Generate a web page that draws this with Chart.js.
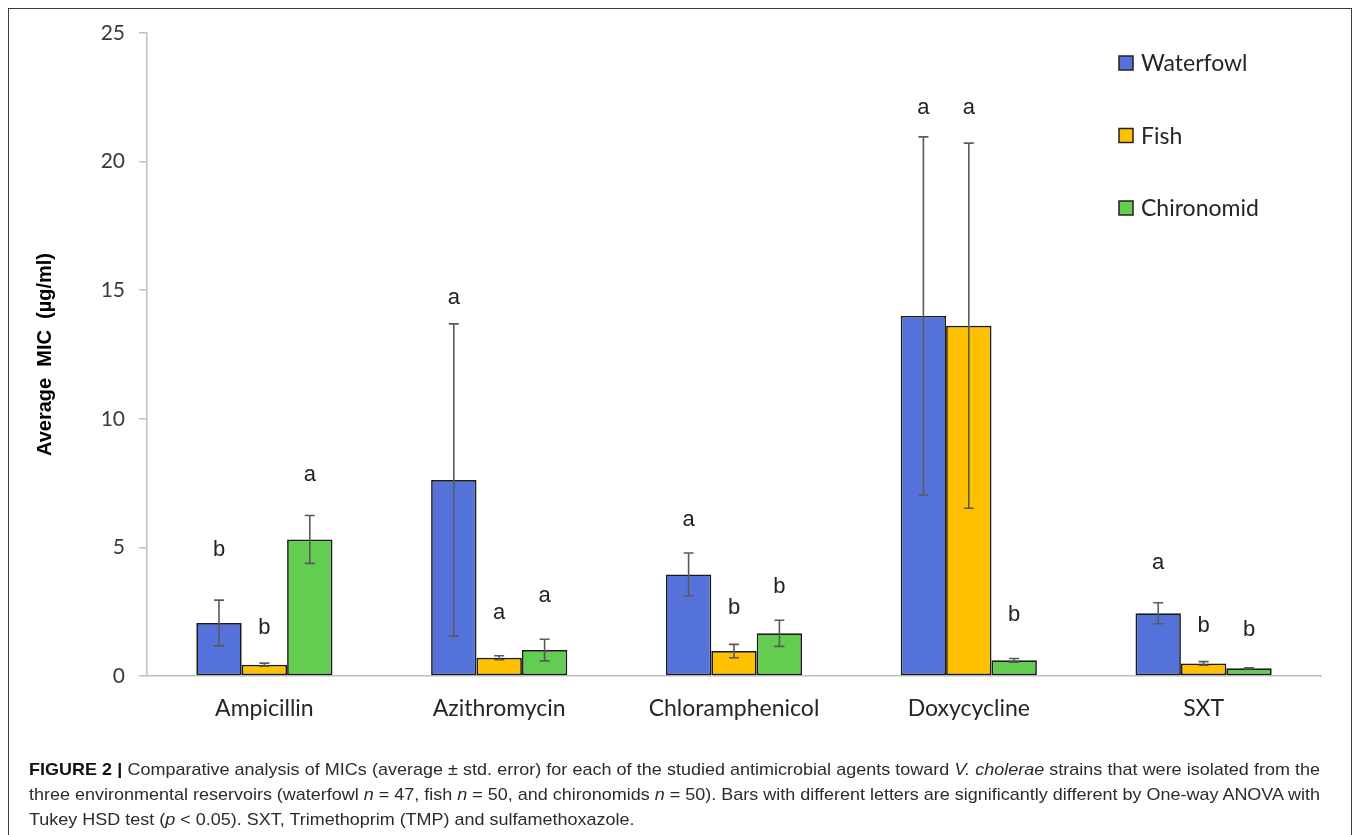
<!DOCTYPE html>
<html>
<head>
<meta charset="utf-8">
<script src="https://cdn.jsdelivr.net/npm/chart.js@4.4.1/dist/chart.umd.min.js"></script>
<style>
  html, body { margin: 0; padding: 0; background: #fff; }
  #wrap { position: relative; width: 1358px; height: 835px; overflow: hidden; background: #fff; }
  #c { position: absolute; left: 0; top: 0; }
  #frame { position: absolute; left: 8px; top: 8px; width: 1344px; height: 840px;
           border: 1.5px solid #3c3c3c; box-sizing: border-box; pointer-events: none; }
  #caption { position: absolute; left: 29px; top: 757px; color: #2b2b2b;
             font-family: "Liberation Sans Narrow", "Arial Narrow", "Liberation Sans", Arial, sans-serif;
             font-size: 17px; line-height: 25px; }
  #caption .ln { white-space: nowrap; transform-origin: 0 0; }
  #caption .just { text-align: justify; text-align-last: justify; white-space: normal; }
  #caption b { font-weight: bold; color: #111; }
</style>
</head>
<body>
<div id="wrap">
  <canvas id="c" width="1358" height="835"></canvas>
  <div id="frame"></div>
  <div id="caption">
    <div class="ln" id="l1"><b>FIGURE 2 |</b> Comparative analysis of MICs (average ± std. error) for each of the studied antimicrobial agents toward <i>V. cholerae</i> strains that were isolated from the</div>
    <div class="ln" id="l2">three environmental reservoirs (waterfowl <i>n</i> = 47, fish <i>n</i> = 50, and chironomids <i>n</i> = 50). Bars with different letters are significantly different by One-way ANOVA with</div>
    <div class="ln" id="l3">Tukey HSD test (<i>p</i> &lt; 0.05). SXT, Trimethoprim (TMP) and sulfamethoxazole.</div>
  </div>
</div>
<script>
// ---- data ----
const categories = ['Ampicillin', 'Azithromycin', 'Chloramphenicol', 'Doxycycline', 'SXT'];
const seriesNames = ['Waterfowl', 'Fish', 'Chironomid'];
const waterfowl = [2.06, 7.62, 3.95, 14.0, 2.44];
const waterfowlErr = [0.89, 6.07, 0.83, 6.96, 0.41];
const fish = [0.44, 0.71, 0.97, 13.62, 0.49];
const fishErr = [0.06, 0.08, 0.26, 7.1, 0.07];
const chironomid = [5.31, 1.01, 1.66, 0.61, 0.30];
const chironomidErr = [0.93, 0.42, 0.51, 0.07, 0.02];
// significance letters and the value level at which each is printed
const waterfowlLetters = ['b', 'a', 'a', 'a', 'a'];
const fishLetters = ['b', 'a', 'b', 'a', 'b'];
const chironomidLetters = ['a', 'a', 'b', 'b', 'b'];
const waterfowlLetterY = [4.9, 14.7, 6.07, 22.1, 4.38];
const fishLetterY = [1.86, 2.45, 2.66, 22.1, 1.94];
const chironomidLetterY = [7.8, 3.12, 3.47, 2.37, 1.79];
const yTicks = [0, 5, 10, 15, 20, 25];
const yTitle = 'Average  MIC  (µg/ml)';

const colors = ['#5571da', '#ffc000', '#63cd52'];
const errs = [waterfowlErr, fishErr, chironomidErr];
const letters = [waterfowlLetters, fishLetters, chironomidLetters];
const letterY = [waterfowlLetterY, fishLetterY, chironomidLetterY];

const extrasPlugin = {
  id: 'extras',
  afterDatasetsDraw(chart) {
    const ctx = chart.ctx;
    const y = chart.scales.y;
    ctx.save();
    chart.data.datasets.forEach((ds, di) => {
      const meta = chart.getDatasetMeta(di);
      meta.data.forEach((bar, i) => {
        const v = ds.data[i], e = errs[di][i];
        const yt = y.getPixelForValue(v + e), yb = y.getPixelForValue(v - e);
        ctx.strokeStyle = '#5a5a5a';
        ctx.lineWidth = 1.6;
        ctx.beginPath();
        ctx.moveTo(bar.x, yt); ctx.lineTo(bar.x, yb);
        ctx.moveTo(bar.x - 5, yt); ctx.lineTo(bar.x + 5, yt);
        ctx.moveTo(bar.x - 5, yb); ctx.lineTo(bar.x + 5, yb);
        ctx.stroke();
        ctx.fillStyle = '#222';
        ctx.font = '22px "Liberation Sans", Arial, sans-serif';
        ctx.textAlign = 'center';
        ctx.textBaseline = 'middle';
        ctx.fillText(letters[di][i], bar.x, y.getPixelForValue(letterY[di][i]));
      });
    });
    // legend
    const lx = 1119, ly0 = 63, step = 72.5;
    chart.data.datasets.forEach((ds, di) => {
      const cy = ly0 + di * step;
      ctx.fillStyle = ds.backgroundColor;
      ctx.fillRect(lx, cy - 7, 14, 14);
      ctx.strokeStyle = '#222';
      ctx.lineWidth = 1.5;
      ctx.strokeRect(lx, cy - 7, 14, 14);
      ctx.fillStyle = '#262626';
      ctx.font = '23px Lato, "Open Sans", sans-serif';
      ctx.textAlign = 'left';
      ctx.textBaseline = 'middle';
      ctx.fillText(ds.label, lx + 22, cy + 1);
    });
    ctx.restore();
  }
};

new Chart(document.getElementById('c'), {
  type: 'bar',
  data: {
    labels: categories,
    datasets: [
      { label: seriesNames[0], data: waterfowl, backgroundColor: colors[0] },
      { label: seriesNames[1], data: fish, backgroundColor: colors[1] },
      { label: seriesNames[2], data: chironomid, backgroundColor: colors[2] }
    ]
  },
  options: {
    responsive: false,
    animation: false,
    layout: { padding: { left: 0, right: 37, top: 33, bottom: 0 } },
    datasets: {
      bar: {
        categoryPercentage: 0.58, barPercentage: 1.0,
        borderColor: '#1a1a1a', borderWidth: 1.7, borderSkipped: false
      }
    },
    plugins: { legend: { display: false }, tooltip: { enabled: false } },
    scales: {
      x: {
        grid: { display: false, drawTicks: false },
        border: { display: true, color: '#c0c0c0', width: 1.5 },
        ticks: { color: '#262626', font: { family: 'Lato', size: 23 }, padding: 19, maxRotation: 0 },
        afterFit(s) { s.height = 835 - 676; }
      },
      y: {
        min: 0, max: 25,
        afterBuildTicks(s) { s.ticks = yTicks.map(v => ({ value: v })); },
        grid: { drawOnChartArea: false, drawTicks: true, tickLength: 8, color: '#c0c0c0', lineWidth: 1.5 },
        border: { display: true, color: '#c0c0c0', width: 1.5 },
        ticks: { color: '#3a3a3a', font: { family: 'Lato', size: 21 }, padding: 14 },
        title: { display: true, text: yTitle, color: '#000',
                 font: { family: 'Liberation Sans', size: 20, weight: 'bold' }, padding: { top: 33, bottom: 0 } },
        afterFit(s) { s.width = 147; }
      }
    }
  },
  plugins: [extrasPlugin]
});

// caption fitting: lines 1-2 justified across the caption width
(function fitCaption() {
  const target = 1291;
  const l1 = document.getElementById('l1'), l2 = document.getElementById('l2'), l3 = document.getElementById('l3');
  const tmp = [l1, l2].map(el => { el.style.display = 'inline-block'; const ww = el.getBoundingClientRect().width; el.style.display = 'block'; return ww; });
  const nat = Math.max(tmp[0], tmp[1]);
  const s = Math.min(1.15, target / nat);
  [l1, l2].forEach(el => {
    el.classList.add('just');
    el.style.width = (target / s) + 'px';
    el.style.transform = 'scaleX(' + s + ')';
  });
  l3.style.transform = 'scaleX(' + s + ')';
})();
</script>
</body>
</html>
